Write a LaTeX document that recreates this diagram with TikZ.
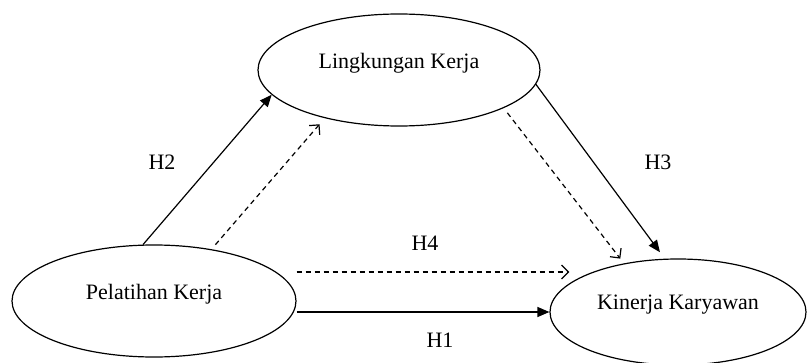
\documentclass[tikz,border=0pt]{standalone}
\usepackage{fontspec}
\setmainfont{Liberation Serif}
\usetikzlibrary{shapes.geometric,arrows.meta}
\tikzset{
  var/.style={draw, ellipse, line width=0.6pt, inner sep=0pt, text depth=9.4pt},
  solidarr/.style={line width=0.6pt, -{Triangle[length=6pt,width=5pt]}},
  dasharr/.style={line width=0.6pt, dash pattern=on 2.5pt off 2pt, -{Straight Barb[length=3.5pt,width=7pt]}}
}
\begin{document}
\begin{tikzpicture}[x=0.5pt,y=-0.5pt,font=\fontsize{11}{13}\selectfont]
\useasboundingbox (0,0) rectangle (807,363);
    % Draw the three variables
    \node[var, minimum width=141pt, minimum height=56pt] (lingkungan) at (399,70) {Lingkungan Kerja};
    \node[var, minimum width=142pt, minimum height=56pt] (pelatihan) at (154,301) {Pelatihan Kerja};
    \node[var, minimum width=128pt, minimum height=53pt] (kinerja) at (678,312) {Kinerja Karyawan};
    % Direct paths
    \draw[solidarr] (pelatihan.101) -- (lingkungan.191);
    \draw[solidarr, shorten >=4pt] (lingkungan.-6) -- (kinerja.104);
    \draw[solidarr] ([yshift=-5.5pt]pelatihan.east) -- (kinerja.west);
    % Mediated paths
    \draw[dasharr, shorten <=3pt, shorten >=4pt] (pelatihan.42) -- (lingkungan.213);
    \draw[dasharr, shorten <=3pt, shorten >=3pt] (lingkungan.-20) -- (kinerja.138);
    \draw[dasharr] ([yshift=14.5pt]pelatihan.east) -- ([xshift=10pt,yshift=20pt]kinerja.west);
    % Hypothesis labels
    \node (h2) at (162,162) {H2};
    \node (h3) at (658,162) {H3};
    \node (h4) at (425,243) {H4};
    \node (h1) at (440,340) {H1};
\end{tikzpicture}
\end{document}
